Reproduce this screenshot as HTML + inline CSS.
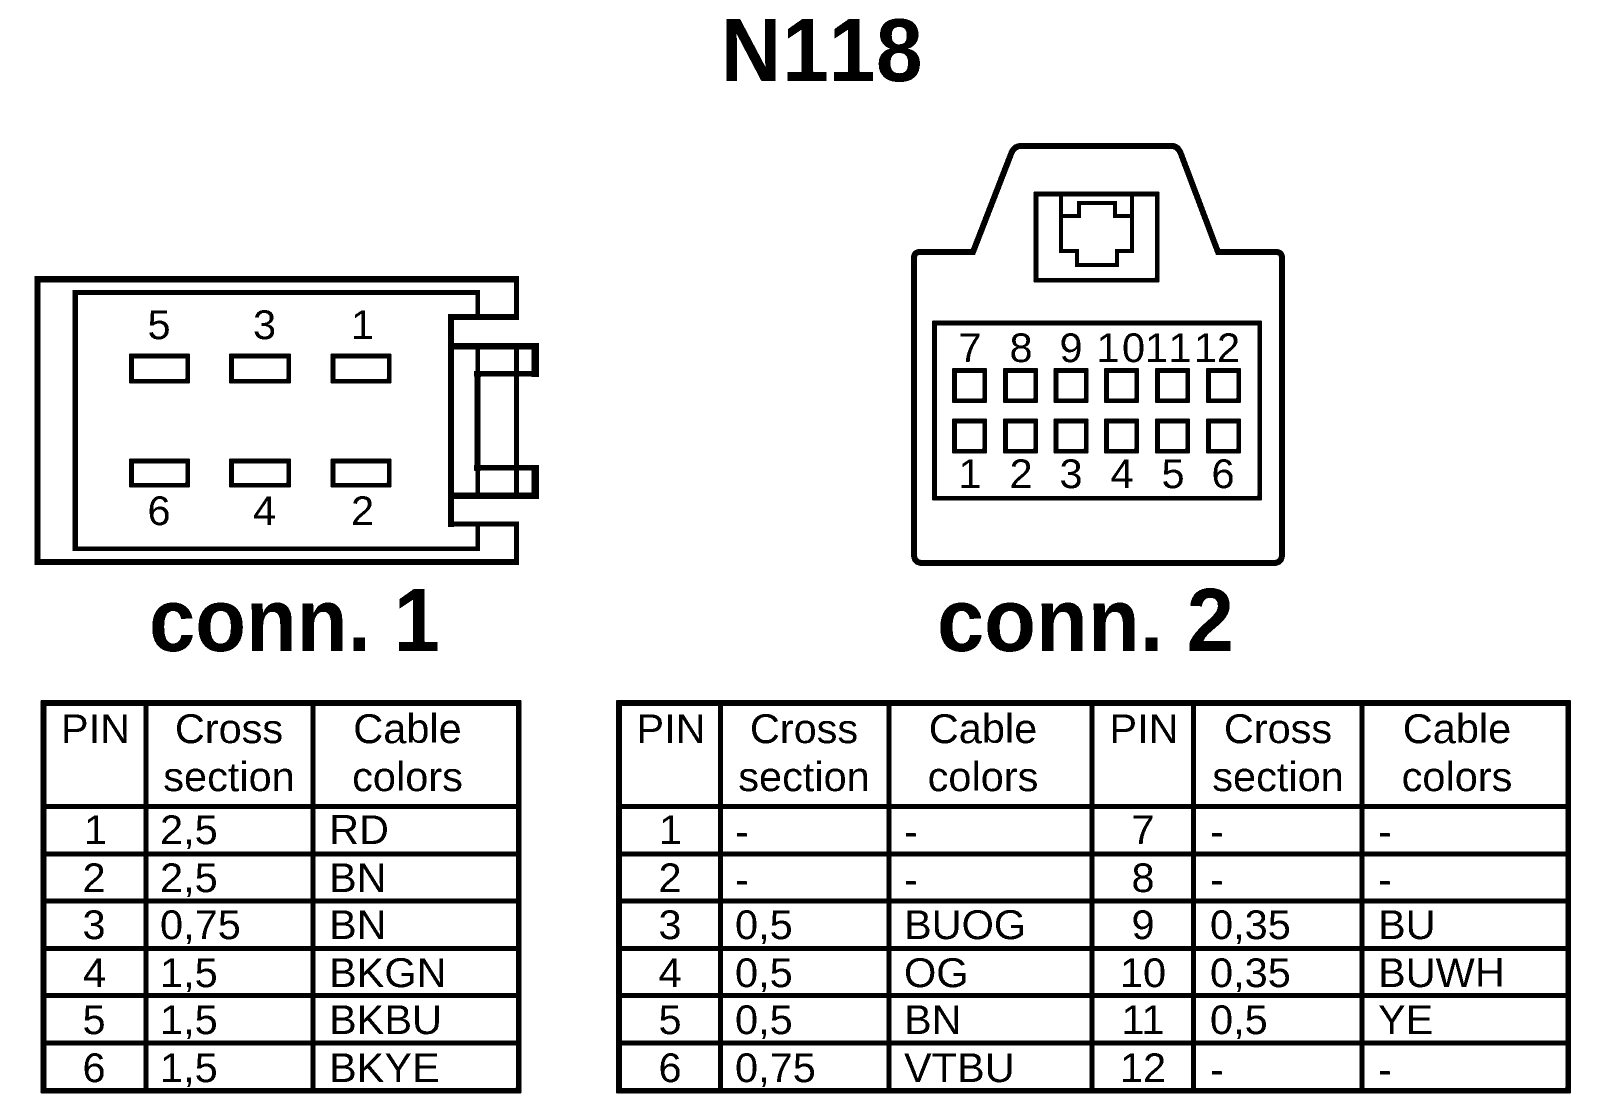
<!DOCTYPE html>
<html><head><meta charset="utf-8"><style>
html,body{margin:0;padding:0;background:#fff}
svg{display:block}
text{font-family:"Liberation Sans",Arial,sans-serif;fill:#000}
.t{font-size:41.500px}
.m{text-anchor:middle}
.b{font-weight:bold;font-size:90px}
.r{fill:#fff;stroke:#000;stroke-width:4.500}
.l{fill:none;stroke:#000;stroke-linejoin:miter}
</style></head><body>
<svg width="1600" height="1120" viewBox="0 0 1600 1120" xmlns="http://www.w3.org/2000/svg">
<defs><filter id="bw" x="0" y="0" width="100%" height="100%" color-interpolation-filters="sRGB"><feComponentTransfer><feFuncR type="discrete" tableValues="0 1"/><feFuncG type="discrete" tableValues="0 1"/><feFuncB type="discrete" tableValues="0 1"/></feComponentTransfer></filter></defs>
<g filter="url(#bw)">
<rect width="1600" height="1120" fill="#fff"/>
<text class="b" transform="translate(0,81) scale(.93,1)" x="775 841 891 942" y="0">N118</text>

<!-- conn 1 -->
<g fill="#000">
<rect x="34.500" y="276" width="484.500" height="6.700"/><rect x="34.500" y="276" width="6" height="289"/><rect x="34.500" y="559" width="484.500" height="6"/>
<rect x="514" y="276" width="5" height="44"/><rect x="514" y="522" width="5" height="43"/>
<rect x="72.500" y="290" width="407.500" height="5"/><rect x="72.500" y="290" width="5.400" height="261"/><rect x="72.500" y="546.700" width="407.500" height="4.300"/>
<rect x="475.700" y="290" width="4.300" height="30"/><rect x="475.700" y="522" width="4.300" height="29"/>
<rect x="448" y="314" width="71" height="6"/><rect x="448" y="314" width="6" height="212.700"/><rect x="448" y="521.700" width="71" height="5"/>
<rect x="454" y="343" width="85" height="6.300"/><rect x="531.700" y="343" width="7.300" height="33.700"/><rect x="474.300" y="371" width="64.700" height="5.700"/>
<rect x="474.300" y="371" width="6.400" height="99.700"/><rect x="474.300" y="465" width="64.700" height="5.700"/><rect x="531.700" y="465" width="7.300" height="34"/>
<rect x="448" y="492.700" width="91" height="6.300"/>
<rect x="475.700" y="343" width="4.300" height="150"/><rect x="514" y="343" width="5" height="150"/>
</g>
<g class="r">
<rect x="131.500" y="356" width="56" height="25"/><rect x="231.500" y="356" width="57" height="25"/><rect x="333" y="356" width="56" height="25"/>
<rect x="131.500" y="461" width="56" height="24"/><rect x="231.500" y="461" width="57" height="24"/><rect x="333" y="461" width="56" height="24"/>
</g>
<g class="t m">
<text x="159" y="339">5</text><text x="264.500" y="339">3</text><text x="362.500" y="339">1</text>
<text x="159" y="525">6</text><text x="264.500" y="525">4</text><text x="362.500" y="525">2</text>
</g>
<text class="b" x="149" y="651" textLength="291" lengthAdjust="spacingAndGlyphs">conn. 1</text>

<!-- conn 2 -->
<path class="l" stroke-width="6" d="M918 252H973L1011 154Q1014 146 1021 146H1172Q1178 146 1181 154L1218 252H1276Q1282 252 1282 258V554Q1282 563 1274 563H922Q914 563 914 554V258Q914 252 920 252" />
<rect x="1036" y="194" width="121" height="86" class="r" stroke-width="4"/>
<path class="l" stroke-width="4" d="M1061 194V251H1077V265H1117V251H1132V194M1061 216H1079V203H1115V216H1132"/>
<rect x="934.500" y="323" width="325" height="175" class="r"/>
<g class="r">
<rect x="954.500" y="370.500" width="30" height="30"/><rect x="1005.500" y="370.500" width="30" height="30"/><rect x="1056" y="370.500" width="30" height="30"/><rect x="1106.500" y="370.500" width="30" height="30"/><rect x="1157.500" y="370.500" width="30" height="30"/><rect x="1208.500" y="370.500" width="30" height="30"/>
<rect x="954.500" y="421" width="30" height="30"/><rect x="1005.500" y="421" width="30" height="30"/><rect x="1056" y="421" width="30" height="30"/><rect x="1106.500" y="421" width="30" height="30"/><rect x="1157.500" y="421" width="30" height="30"/><rect x="1208.500" y="421" width="30" height="30"/>
</g>
<g class="t m">
<text x="970" y="362">7</text><text x="1021" y="362">8</text><text x="1071" y="362">9</text>
<text x="970" y="488">1</text><text x="1021" y="488">2</text><text x="1071" y="488">3</text><text x="1122" y="488">4</text><text x="1173" y="488">5</text><text x="1223" y="488">6</text>
</g>
<g class="t">
<text x="1096.500 1122" y="362">10</text><text x="1145 1168.500" y="362">11</text><text x="1194 1217" y="362">12</text>
</g>
<text class="b" x="937" y="651" textLength="297" lengthAdjust="spacingAndGlyphs">conn. 2</text>

<!-- table 1 -->
<g class="l" stroke-width="5">
<rect x="43.500" y="703" width="475" height="387.500" stroke-width="5.500"/>
<path d="M146 703V1090M313 703V1090M43 806.500H518M43 854H518M43 901H518M43 948.500H518M43 995.500H518M43 1043H518"/>
</g>
<g class="t m">
<text x="95.500" y="743">PIN</text><text x="229" y="743">Cross</text><text x="229" y="791">section</text><text x="407.500" y="743">Cable</text><text x="407.500" y="791">colors</text>
<text x="95.500" y="844">1</text><text x="94" y="892">2</text><text x="94" y="939">3</text><text x="94.500" y="987">4</text><text x="94" y="1034">5</text><text x="94" y="1082">6</text>
</g>
<g class="t">
<text x="160" y="844">2,5</text><text x="160" y="892">2,5</text><text x="160" y="939">0,75</text><text x="160" y="987">1,5</text><text x="160" y="1034">1,5</text><text x="160" y="1082">1,5</text>
<text x="329" y="844">RD</text><text x="329" y="892">BN</text><text x="329" y="939">BN</text><text x="329" y="987">BKGN</text><text x="329" y="1034">BKBU</text><text x="329" y="1082">BKYE</text>
</g>

<!-- table 2 -->
<g class="l" stroke-width="5">
<rect x="619" y="703" width="949" height="387.500" stroke-width="5.500"/>
<path d="M720.500 703V1090M889 703V1090M1092 703V1090M1193.500 703V1090M1362 703V1090M619 806.500H1568M619 854H1568M619 901H1568M619 948.500H1568M619 995.500H1568M619 1043H1568"/>
</g>
<g class="t m">
<text x="671" y="743">PIN</text><text x="804" y="743">Cross</text><text x="804" y="791">section</text><text x="983" y="743">Cable</text><text x="983" y="791">colors</text>
<text x="1144" y="743">PIN</text><text x="1278" y="743">Cross</text><text x="1278" y="791">section</text><text x="1457" y="743">Cable</text><text x="1457" y="791">colors</text>
<text x="670.500" y="844">1</text><text x="670" y="892">2</text><text x="670" y="939">3</text><text x="670" y="987">4</text><text x="670" y="1034">5</text><text x="670" y="1082">6</text>
<text x="1143" y="844">7</text><text x="1143" y="892">8</text><text x="1143" y="939">9</text><text x="1143" y="987">10</text><text x="1143" y="1034">11</text><text x="1143" y="1082">12</text>
</g>
<g class="t">
<text x="735" y="846">-</text><text x="735" y="894">-</text><text x="735" y="939">0,5</text><text x="735" y="987">0,5</text><text x="735" y="1034">0,5</text><text x="735" y="1082">0,75</text>
<text x="904" y="846">-</text><text x="904" y="894">-</text><text x="904" y="939">BUOG</text><text x="904" y="987">OG</text><text x="904" y="1034">BN</text><text x="904" y="1082">VTBU</text>
<text x="1210" y="846">-</text><text x="1210" y="894">-</text><text x="1210" y="939">0,35</text><text x="1210" y="987">0,35</text><text x="1210" y="1034">0,5</text><text x="1210" y="1084">-</text>
<text x="1378" y="846">-</text><text x="1378" y="894">-</text><text x="1378" y="939">BU</text><text x="1378" y="987">BUWH</text><text x="1378" y="1034">YE</text><text x="1378" y="1084">-</text>
</g>
</g>
</svg>
</body></html>
